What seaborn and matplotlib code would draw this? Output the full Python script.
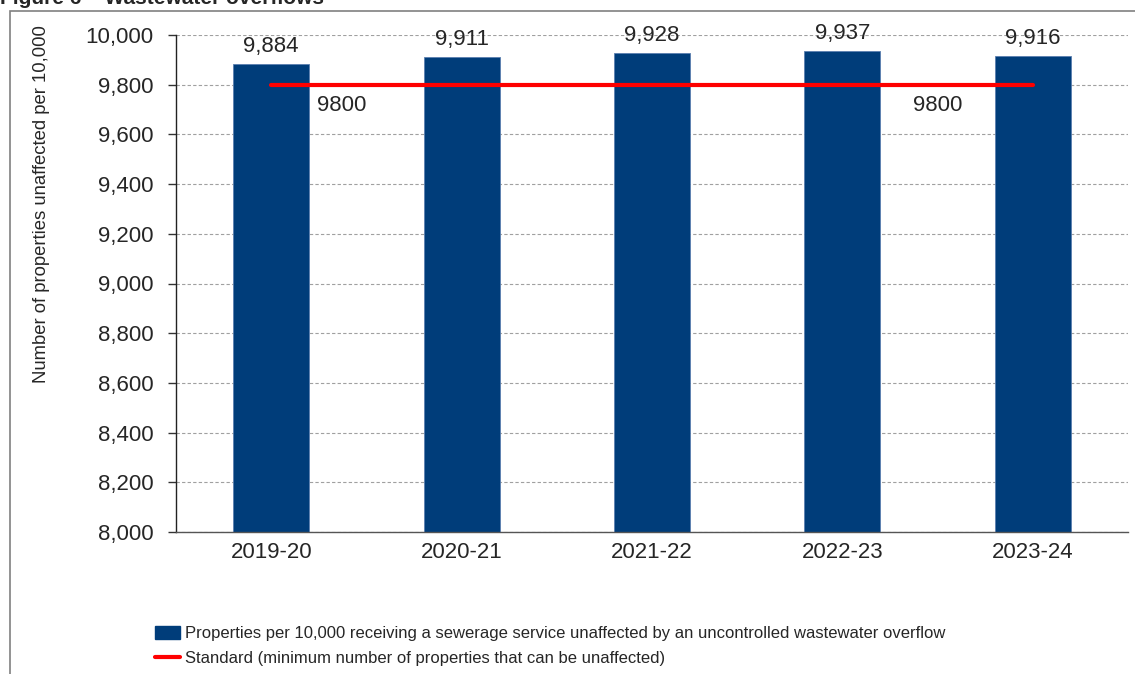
import matplotlib
matplotlib.use("Agg")
import matplotlib.pyplot as plt
import matplotlib.patches as mpatches
import matplotlib.lines as mlines
import seaborn as sns
import pandas as pd

years = ["2019-20", "2020-21", "2021-22", "2022-23", "2023-24"]
properties = [9884, 9911, 9928, 9937, 9916]
standard = [9800, 9800, 9800, 9800, 9800]
y_ticks = [8000, 8200, 8400, 8600, 8800, 9000, 9200, 9400, 9600, 9800, 10000]

bar_label = "Properties per 10,000 receiving a sewerage service unaffected by an uncontrolled wastewater overflow"
std_label = "Standard (minimum number of properties that can be unaffected)"

sns.set_theme(style="white")
plt.rcParams["font.family"] = ["Liberation Sans", "DejaVu Sans"]

BLUE = "#003D7A"
RED = "#FF0000"

fig = plt.figure(figsize=(11.35, 6.74), dpi=100)
W, H = 1135, 674
ax = fig.add_axes([176 / W, 1 - 532 / H, (1128 - 176) / W, (532 - 35) / H])

df = pd.DataFrame({"year": years, "value": properties})
sns.barplot(data=df, x="year", y="value", color=BLUE, width=0.4, ax=ax,
            saturation=1, edgecolor="#5A7FAF", linewidth=0.6, zorder=2)

ax.plot(range(len(years)), standard, color=RED, lw=3, zorder=3,
        solid_capstyle="round")

ax.set_ylim(8000, 10000)
ax.set_xlim(-0.5, len(years) - 0.5)
ax.set_yticks(y_ticks)
ax.set_yticklabels([f"{v:,}" for v in y_ticks], fontsize=16)
ax.tick_params(axis="x", labelsize=16, length=0, pad=7)
ax.tick_params(axis="y", length=6, width=1, color="#333333", left=True, pad=10)
ax.set_xlabel("")
ax.set_ylabel("Number of properties unaffected per 10,000", fontsize=13.3)
ax.yaxis.set_label_coords((50 - 176) / 952, (532 - 204) / 497)

ax.yaxis.grid(True, linestyle=(0, (3, 2)), color="#A0A0A0", linewidth=0.8, zorder=0)
ax.set_axisbelow(True)
for s in ["top", "right"]:
    ax.spines[s].set_visible(False)
ax.spines["left"].set_color("#222222")
ax.spines["bottom"].set_color("#555555")
ax.spines["left"].set_linewidth(1)
ax.spines["bottom"].set_linewidth(1)

# data labels on bars
for i, v in enumerate(properties):
    ax.annotate(f"{v:,}", (i, v), xytext=(0, 5), textcoords="offset points",
                ha="center", va="bottom", fontsize=16, zorder=4)

# standard labels (first and fourth points)
for i, dx in [(0, 0.37), (3, 0.5)]:
    ax.annotate(f"{standard[i]}", (i + dx, standard[i]), xytext=(0, -15),
                textcoords="offset points", ha="center", va="center", fontsize=16)

# legend
handles = [mpatches.Patch(facecolor=BLUE, edgecolor=BLUE, label=bar_label),
           mlines.Line2D([], [], color=RED, lw=3, label=std_label)]
fig.legend(handles=handles, loc="upper left", bbox_to_anchor=(155 / W, 1 - 626 / H),
           frameon=False, fontsize=12, handlelength=1.5, handleheight=0.8,
           handletextpad=0.3, labelspacing=0.6, borderaxespad=0, borderpad=0)

# outer frame (partially visible)
fig.patches.append(mpatches.Rectangle((10 / W, -0.1), 1.2, 1 - 11 / H + 0.1,
                                      transform=fig.transFigure, fill=False,
                                      edgecolor="#808080", lw=1.2, clip_on=False))

# title (cut off at top, as in the reference)
fig.text(0 / W, 1 - 4 / H, "Figure 6 \u2013 Wastewater overflows", fontsize=15,
         fontweight="bold", ha="left", va="baseline")

fig.savefig("out.png", dpi=100)
